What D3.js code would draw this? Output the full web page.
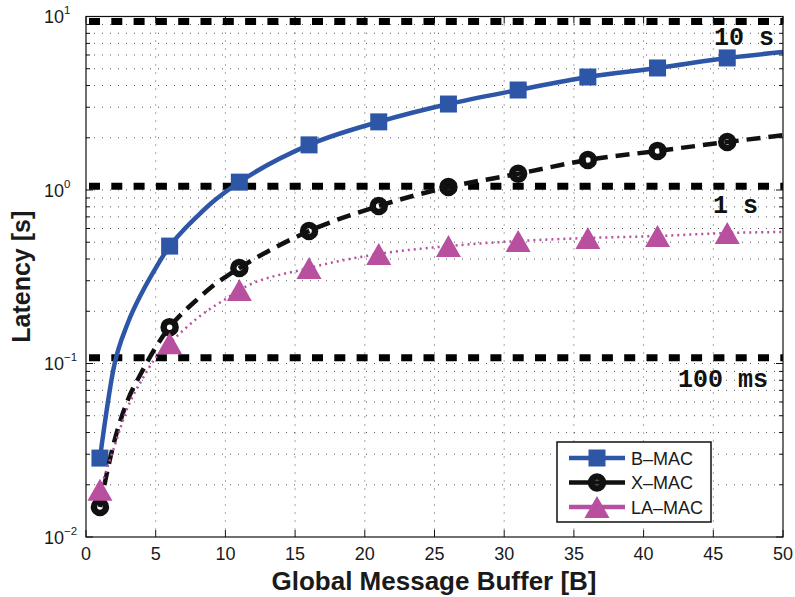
<!DOCTYPE html>
<meta charset="utf-8">
<style>
body { margin: 0; background: #fff; }
text { font-family: "Liberation Sans", Arial, Helvetica, sans-serif; fill: #1a1a1a; }
.grid line { stroke: #555; stroke-width: 1; stroke-dasharray: 1,7; }
.tick { stroke: #111; stroke-width: 1; }
.limit { fill: none; stroke: #000; stroke-width: 7; stroke-dasharray: 11,11.3; }
.limitlabel { font-family: "Liberation Mono", "Courier New", monospace; font-weight: bold; font-size: 25px; fill: #111; }
</style>
<body>
<script src="https://d3js.org/d3.v7.min.js"></script>
<script>

// data
var buffer = [1, 2, 3, 4, 5, 6, 7, 8, 9, 10, 11, 16, 21, 26, 31, 36, 41, 46, 50];
var bmac   = [0.0285, 0.0955, 0.171, 0.255, 0.355, 0.475, 0.588, 0.708, 0.841, 0.973, 1.11, 1.82, 2.47, 3.13, 3.77, 4.48, 5.05, 5.77, 6.24];
var xmac   = [0.0149, 0.0348, 0.0616, 0.0893, 0.124, 0.162, 0.198, 0.235, 0.276, 0.315, 0.355, 0.580, 0.809, 1.04, 1.24, 1.49, 1.68, 1.89, 2.07];
var lamac  = [0.0187, 0.0326, 0.0561, 0.0803, 0.108, 0.131, 0.156, 0.183, 0.209, 0.235, 0.265, 0.355, 0.428, 0.475, 0.508, 0.529, 0.543, 0.565, 0.573];
var markerBuffer = [1, 6, 11, 16, 21, 26, 31, 36, 41, 46];

var limitValues = [9.35, 1.05, 0.108];
var limitLabels = ["10 s", "1 s", "100 ms"];

var xTicks = [0, 5, 10, 15, 20, 25, 30, 35, 40, 45, 50];
var yDecades = [-2, -1, 0, 1];

var width = 795, height = 597;
var plotL = 86, plotR = 783, plotT = 16.5, plotB = 537;

var x = d3.scaleLinear().domain([0, 50]).range([plotL, plotR]);
var y = d3.scaleLog().domain([0.01, 10]).range([plotB, plotT]);

var svg = d3.select("body").append("svg")
    .attr("width", width)
    .attr("height", height);

// minor y values
var yMinor = [];
yDecades.slice(0, 3).forEach(function(e) {
  for (var m = 2; m <= 9; m++) yMinor.push(m * Math.pow(10, e));
});

// grid
var grid = svg.append("g").attr("class", "grid");
grid.selectAll(".gx").data(xTicks.slice(1, -1)).enter().append("line")
    .attr("x1", d => x(d)).attr("x2", d => x(d))
    .attr("y1", plotT).attr("y2", plotB);
grid.selectAll(".gy").data(yMinor.concat([0.1, 1])).enter().append("line")
    .attr("x1", plotL).attr("x2", plotR)
    .attr("y1", d => y(d)).attr("y2", d => y(d));

// ticks
var ticks = svg.append("g");
xTicks.forEach(function(t) {
  ticks.append("line").attr("class", "tick").attr("x1", x(t)).attr("x2", x(t)).attr("y1", plotB).attr("y2", plotB - 7);
  ticks.append("line").attr("class", "tick").attr("x1", x(t)).attr("x2", x(t)).attr("y1", plotT).attr("y2", plotT + 7);
});
yDecades.forEach(function(e) {
  var v = Math.pow(10, e);
  ticks.append("line").attr("class", "tick").attr("x1", plotL).attr("x2", plotL + 7).attr("y1", y(v)).attr("y2", y(v));
  ticks.append("line").attr("class", "tick").attr("x1", plotR).attr("x2", plotR - 7).attr("y1", y(v)).attr("y2", y(v));
});
yMinor.forEach(function(v) {
  ticks.append("line").attr("class", "tick").attr("x1", plotL).attr("x2", plotL + 4).attr("y1", y(v)).attr("y2", y(v));
  ticks.append("line").attr("class", "tick").attr("x1", plotR).attr("x2", plotR - 4).attr("y1", y(v)).attr("y2", y(v));
});

// tick labels
svg.selectAll(".xl").data(xTicks).enter().append("text")
    .attr("x", d => x(d)).attr("y", plotB + 23)
    .attr("text-anchor", "middle")
    .style("font-size", "18px")
    .text(d => d);

yDecades.forEach(function(e) {
  var t = svg.append("text")
      .attr("x", 44).attr("y", y(Math.pow(10, e)) + 6.5)
      .style("font-size", "18px");
  t.append("tspan").text("10");
  t.append("tspan").attr("dy", -9).style("font-size", "11.5px")
      .text(e < 0 ? "\u2212" + (-e) : e);
});

// limit lines
var labelDx = [628, 627, 592];
var labelDy = [23, 27, 29];
limitValues.forEach(function(v, i) {
  svg.append("line").attr("class", "limit")
      .attr("x1", x(0) + 3).attr("x2", plotR)
      .attr("y1", y(v)).attr("y2", y(v));
  svg.append("text").attr("class", "limitlabel")
      .attr("x", plotL + labelDx[i]).attr("y", y(v) + labelDy[i])
      .text(limitLabels[i]);
});

// series
var series = [
  {name: "B\u2013MAC", values: bmac, color: "#2E56A6", width: 4.5, dash: null, marker: "square"},
  {name: "X\u2013MAC", values: xmac, color: "#111111", width: 4.5, dash: "14,8", marker: "circle"},
  {name: "LA\u2013MAC", values: lamac, color: "#B84F9F", width: 2.5, dash: "2,4", marker: "triangle"}
];

var line = d3.line()
    .x(d => x(d[0]))
    .y(d => y(d[1]))
    .curve(d3.curveMonotoneX);

function drawMarker(g, kind, cx, cy, color) {
  if (kind === "square") {
    g.append("rect").attr("x", cx - 8.5).attr("y", cy - 8.5)
        .attr("width", 17).attr("height", 17).attr("fill", color);
  } else if (kind === "circle") {
    g.append("circle").attr("cx", cx).attr("cy", cy).attr("r", 6)
        .attr("fill", "none").attr("stroke", color).attr("stroke-width", 6.5);
  } else {
    g.append("path")
        .attr("d", "M" + cx + "," + (cy - 11) + "L" + (cx + 12.5) + "," + (cy + 11) + "L" + (cx - 12.5) + "," + (cy + 11) + "Z")
        .attr("fill", color);
  }
}

series.forEach(function(s) {
  var pts = buffer.map((b, i) => [b, s.values[i]]);
  svg.append("path").datum(pts)
      .attr("d", line)
      .attr("fill", "none")
      .attr("stroke", s.color)
      .attr("stroke-width", s.width)
      .attr("stroke-dasharray", s.dash);
  var g = svg.append("g");
  pts.filter(p => markerBuffer.indexOf(p[0]) >= 0).forEach(function(p) {
    drawMarker(g, s.marker, x(p[0]), y(p[1]), s.color);
  });
});

// plot box
svg.append("rect")
    .attr("x", plotL).attr("y", plotT)
    .attr("width", plotR - plotL).attr("height", plotB - plotT)
    .attr("fill", "none").attr("stroke", "#111").attr("stroke-width", 1.2);

// legend
var legend = svg.append("g").attr("transform", "translate(557,442)");
legend.append("rect").attr("width", 154).attr("height", 80)
    .attr("fill", "#fff").attr("stroke", "#111").attr("stroke-width", 1.5);
series.forEach(function(s, i) {
  var ly = 16 + i * 24.5;
  legend.append("line").attr("x1", 12).attr("x2", 68).attr("y1", ly).attr("y2", ly)
      .attr("stroke", s.color).attr("stroke-width", s.marker === "triangle" ? 4.5 : s.width);
  drawMarker(legend, s.marker, 40, ly, s.color);
  legend.append("text").attr("x", 74).attr("y", ly + 6.5)
      .style("font-size", "18px")
      .text(s.name);
});

// axis titles
svg.append("text")
    .attr("x", 434).attr("y", 590)
    .attr("text-anchor", "middle")
    .style("font-size", "26px").style("font-weight", "bold")
    .text("Global Message Buffer [B]");

svg.append("text")
    .attr("transform", "translate(30," + ((plotT + plotB) / 2) + ") rotate(-90)")
    .attr("text-anchor", "middle")
    .style("font-size", "25px").style("font-weight", "bold")
    .text("Latency [s]");

</script>
</body>
